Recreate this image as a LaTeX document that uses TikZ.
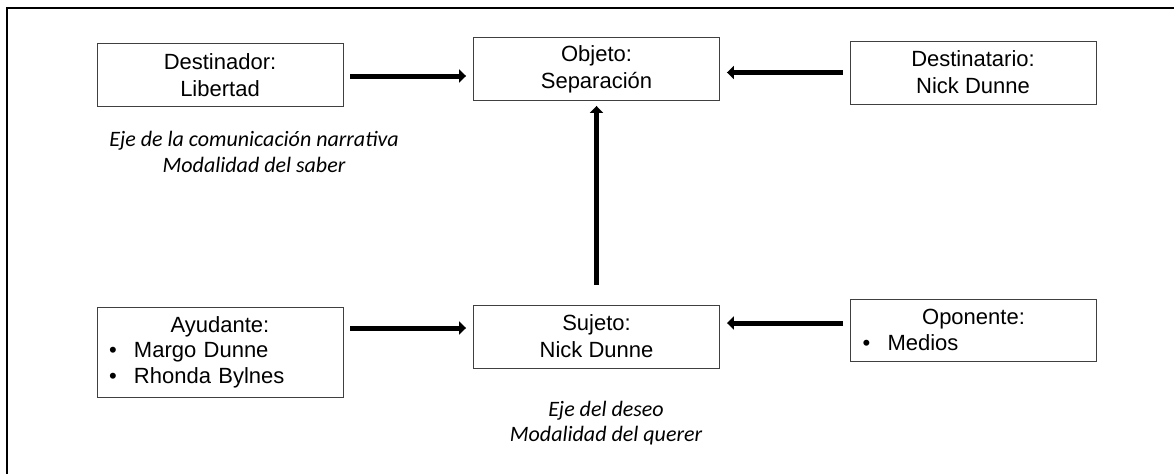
\documentclass[tikz,border=0pt]{standalone}
\usepackage{fontspec}
\setmainfont{Liberation Sans}
\newfontfamily\calfont{Carlito}
\usetikzlibrary{arrows.meta,calc}
\newcommand\bul{\hspace*{7pt}\makebox[25pt][l]{\textbullet}}
\begin{document}
\begin{tikzpicture}[x=1pt,y=-1pt,
  basebox/.style={draw=black!75, line width=0.9pt, minimum width=246pt, minimum height=63pt,
    inner sep=0pt},
  box/.style={basebox, align=center, font=\fontsize{22}{27}\selectfont},
  listbox/.style={basebox, text width=236pt, font=\fontsize{22}{25.5}\selectfont,
    execute at begin node={\setlength\parindent{0pt}\setlength\parskip{0pt}}},
  arr/.style={line width=5pt, -{Triangle[length=7pt,width=13pt]}},
  axis/.style={font=\calfont\itshape\fontsize{22}{25.5}\selectfont, align=center, inner sep=0pt},
  frame/.style={line width=2pt}]
\useasboundingbox (0,0) rectangle (1174,474);
\draw[frame] (7,474) -- (7,8) -- (1174,8);

\node[box] (dest) at (220,75) {Destinador:\\Libertad};
\node[box] (obj) at (596.5,69) {Objeto:\\Separación};
\node[box] (destin) at (973,72.5) {Destinatario:\\Nick Dunne};
\node[listbox, minimum height=90pt] (ayud) at (220,352)
  {{\centering Ayudante:\par}\raggedright\bul Margo Dunne\par\bul Rhonda Bylnes\par};
\node[box] (suj) at (596.5,336.5) {Sujeto:\\Nick Dunne};
\node[listbox, minimum height=62pt] (opon) at (973.5,330)
  {{\centering Oponente:\par}\raggedright\bul Medios\par};

\node[axis] (ax1) at (254,152) {Eje de la comunicación narrativa\\Modalidad del saber};
\node[axis] (ax2) at (606,423) {Eje del deseo\\Modalidad del querer};

\coordinate (tl) at ([xshift=-7pt,yshift=-7pt]obj.west);
\draw[arr] ($(dest.east |- tl)+(7pt,0)$) -- (tl);
\coordinate (tr) at ([xshift=7pt]obj.east |- destin.west);
\draw[arr] ($(destin.west)+(-7pt,0)$) -- (tr);
\draw[arr] ([yshift=20pt]suj.north) -- ([yshift=-5pt]obj.south);
\coordinate (bl) at ([xshift=-7pt,yshift=8.5pt]suj.west);
\draw[arr] ($(ayud.east |- bl)+(7pt,0)$) -- (bl);
\coordinate (br) at ([xshift=7pt,yshift=7pt]suj.east |- opon.west);
\draw[arr] ($(opon.west)+(-7pt,7pt)$) -- (br);
\end{tikzpicture}
\end{document}
